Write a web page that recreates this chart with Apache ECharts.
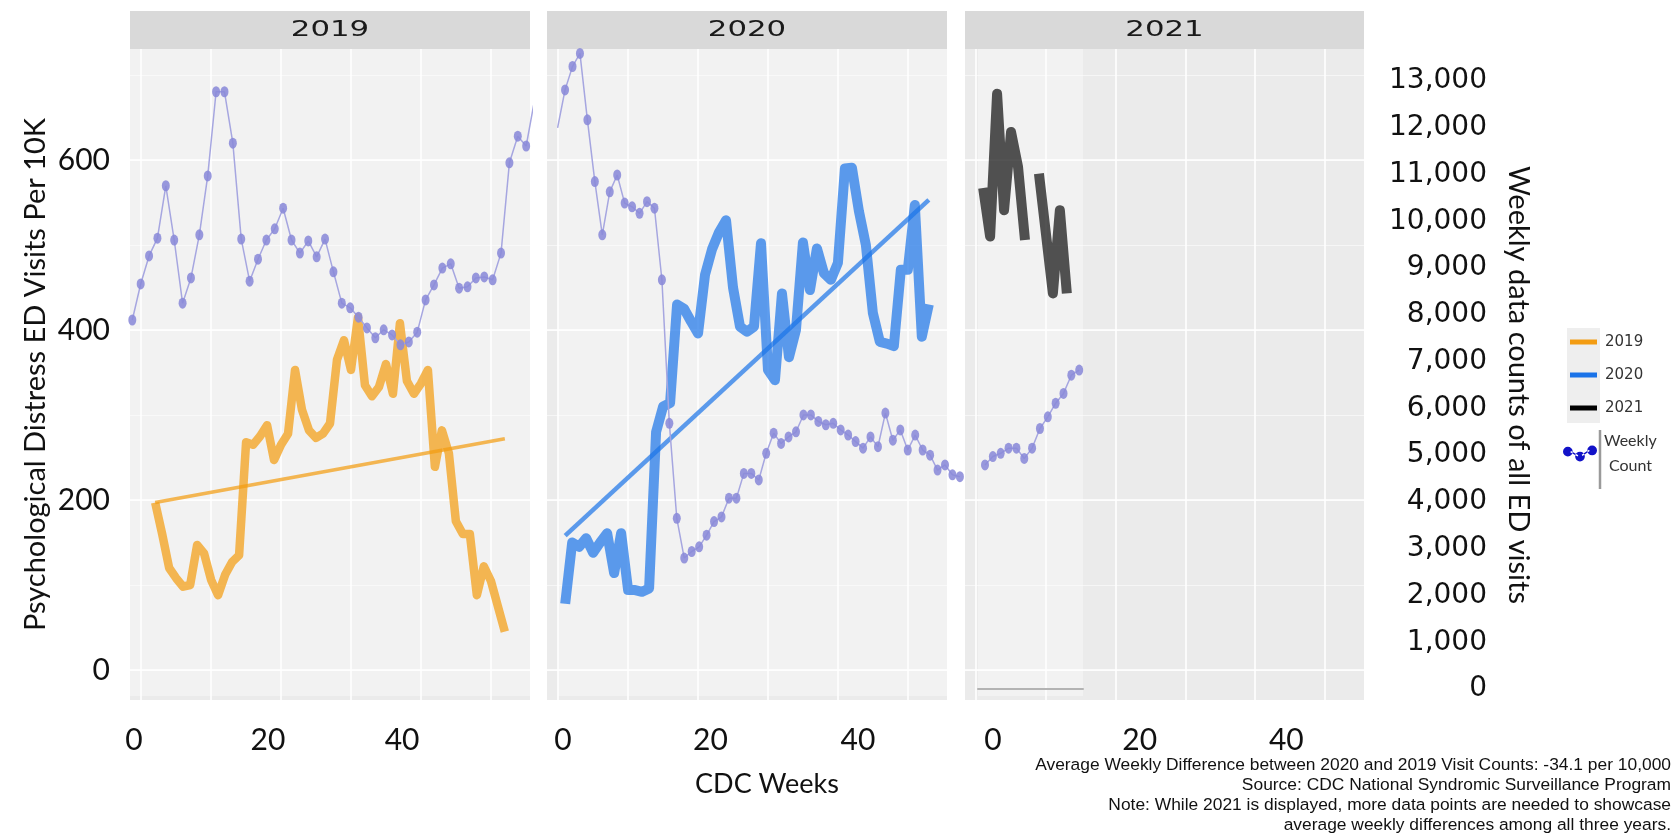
<!DOCTYPE html>
<html>
<head>
<meta charset="utf-8">
<script src="https://cdn.jsdelivr.net/npm/echarts@6/dist/echarts.min.js"></script>
<style>
html,body{margin:0;padding:0;background:#ffffff;}
#chart{width:1680px;height:833px;}
</style>
</head>
<body>
<div id="chart"></div>
<script>
// ---------------- DATA ----------------
const years = ['2019', '2020', '2021'];

const weeks2019 = [2,3,4,5,6,7,8,9,10,11,12,13,14,15,16,17,18,19,20,21,22,23,24,25,26,27,28,29,30,31,32,33,34,35,36,37,38,39,40,41,42,43,44,45,46,47,48,49,50,51,52];
const distress2019 = [197,160,120,108,98,100,147,137,106,88,112,127,135,268,265,275,288,247,265,278,353,306,282,273,278,290,365,388,353,415,335,322,333,360,325,408,340,325,337,353,239,282,255,175,160,160,88,122,105,75,45];

const weeks2020 = [1,2,3,4,5,6,7,8,9,10,11,12,13,14,15,16,17,18,19,20,21,22,23,24,25,26,27,28,29,30,31,32,33,34,35,36,37,38,39,40,41,42,43,44,45,46,47,48,49,50,51,52,53];
const distress2020 = [78,150,145,155,138,150,161,114,161,94,94,92,96,280,310,314,430,425,410,396,465,495,515,529,450,404,398,404,502,353,341,443,368,400,503,447,496,467,459,479,590,591,540,500,420,386,384,381,471,471,547,392,430];

const weeks2021 = [1,2,3,4,5,6,7,8,9,11,12,13];
const distress2021 = [567,510,678,541,633,592,506,null,584,443,541,443];

const trendWeeks2019 = [2, 52];
const trendValues2019 = [197, 272];
const trendWeeks2020 = [1, 53];
const trendValues2020 = [158, 553];

// Weekly data counts of all ED visits (overlay, right axis)
const countIndex2019 = [1,2,3,4,5,6,7,8,9,10,11,12,13,14,15,16,17,18,19,20,21,22,23,24,25,26,27,28,29,30,31,32,33,34,35,36,37,38,39,40,41,42,43,44,45,46,47,48,49];
const weeklyCount2019 = [7890,8660,9260,9640,10760,9600,8250,8790,9710,10970,12770,12770,11670,9620,8720,9190,9600,9840,10280,9600,9320,9580,9240,9620,8920,8250,8150,7950,7720,7510,7680,7570,7360,7420,7630,8320,8640,9000,9090,8570,8600,8790,8810,8750,9320,11250,11820,11610,12590];
const countIndex2020 = [1,2,3,4,5,6,7,8,9,10,11,12,13,14,15,16,17,18,19,20,21,22,23,24,25,26,27,28,29,30,31,32,33,34,35,36,37,38,39,40,41,42,43,44,45,46,47,48,49,50,51,52,53,54,55];
const weeklyCount2020 = [12000,12810,13310,13590,12170,10850,9710,10630,10990,10390,10310,10170,10420,10280,8750,5680,3650,2800,2940,3040,3290,3580,3680,4080,4080,4610,4610,4470,5040,5470,5250,5390,5500,5860,5860,5720,5650,5680,5540,5430,5290,5150,5390,5180,5900,5320,5540,5110,5430,5110,5000,4680,4790,4580,4540];
const countIndex2021 = [1,2,3,4,5,6,7,8,9,10,11,12,13];
const weeklyCount2021 = [4790,4970,5040,5150,5150,4930,5150,5570,5820,6110,6320,6710,6820];

const leftTickLabels = [0, 200, 400, 600];
const weekTickLabels = [0, 20, 40];

const captionLines = [
  'Average Weekly Difference between 2020 and 2019 Visit Counts: -34.1 per 10,000',
  'Source: CDC National Syndromic Surveillance Program',
  'Note: While 2021 is displayed, more data points are needed to showcase',
  'average weekly differences among all three years.'
];

// ---------------- LAYOUT ----------------
const PANEL_LEFT = [130, 547, 965];
const PANEL_WIDTH = [400, 400, 399];
const PLOT_TOP = 49, PLOT_HEIGHT = 651;
const STRIP_TOP = 11, STRIP_HEIGHT = 38;
const WEEK_MIN = -1.6, WEEK_MAX = 55.6;
const LEFT_MIN = -35.3, LEFT_MAX = 730.6;
// week-label axes (labels in the source image sit on their own scale)
const LABEL_RANGE = [[-0.6, 59.1], [-2.17, 52.07], [-3.82, 50.6]];

const RIGHT_TOP = 81, RIGHT_BOTTOM = 689, RIGHT_MAX = 13000;
const OVL_TOP = 49, OVL_BOTTOM = 696;
const pxPerCount = (RIGHT_BOTTOM - RIGHT_TOP) / RIGHT_MAX;
const OVL_MIN = -(OVL_BOTTOM - RIGHT_BOTTOM) / pxPerCount;
const OVL_MAX = (RIGHT_BOTTOM - OVL_TOP) / pxPerCount;
// [gridLeft, gridRight, firstPointX, spacing]
const OVL_GEOM = [[130, 531, 132.3, 8.38], [558, 962, 557.6, 7.45], [978, 1083, 985, 7.85]];

const COLORS = {o: '#F39C12', b: '#1A73E8', k: '#000000'};
const zip = (xs, ys) => xs.map((x, i) => [x, ys[i] == null ? '-' : ys[i]]);

// ---------------- OPTION ----------------
const grid = [], xAxis = [], yAxis = [];
for (let i = 0; i < 3; i++) {
  grid.push({left: PANEL_LEFT[i], top: PLOT_TOP, width: PANEL_WIDTH[i], height: PLOT_HEIGHT,
    show: true, backgroundColor: '#EBEBEB', borderWidth: 0, z: 0});
}
for (let i = 0; i < 3; i++) {
  const g = OVL_GEOM[i];
  grid.push({left: g[0], top: OVL_TOP, width: g[1] - g[0], height: OVL_BOTTOM - OVL_TOP,
    show: true, backgroundColor: 'rgba(255,255,255,0.38)', borderWidth: 0, z: 2});
}
grid.push({left: 1200, top: RIGHT_TOP, width: 290, height: RIGHT_BOTTOM - RIGHT_TOP, show: false});

// facet x axes (grid lines)
for (let i = 0; i < 3; i++) {
  xAxis.push({type: 'value', gridIndex: i, position: 'bottom', min: WEEK_MIN, max: WEEK_MAX, z: 1,
    axisLine: {show: false}, axisTick: {show: false}, axisLabel: {show: false},
    splitLine: {show: true, showMinLine: false, showMaxLine: false, lineStyle: {color: '#ffffff', width: 1.6}}});
}
// facet x label axes
for (let i = 0; i < 3; i++) {
  xAxis.push({type: 'value', gridIndex: i, position: 'bottom', min: LABEL_RANGE[i][0], max: LABEL_RANGE[i][1], z: 1,
    axisLine: {show: false}, axisTick: {show: false}, splitLine: {show: false},
    axisLabel: {show: true, margin: 25, fontFamily: 'Lato', fontSize: 30, color: '#111',
      showMinLabel: false, showMaxLabel: false,
      formatter: v => weekTickLabels.includes(v) ? String(v) : ''},
    name: i === 1 ? 'CDC Weeks' : '', nameLocation: 'middle', nameGap: 71,
    nameTextStyle: {fontFamily: 'Lato', fontSize: 27, color: '#111', padding: [0, 0, 0, 40]}});
}
// overlay x axes
for (let i = 0; i < 3; i++) {
  const g = OVL_GEOM[i];
  xAxis.push({type: 'value', gridIndex: 3 + i, position: 'bottom',
    min: 1 - (g[2] - g[0]) / g[3], max: 1 + (g[1] - g[2]) / g[3],
    show: i === 2, z: 2,
    axisLine: {show: i === 2, lineStyle: {color: '#b3b3b3', width: 2}},
    axisTick: {show: false}, axisLabel: {show: false}, splitLine: {show: false}});
}
xAxis.push({type: 'value', gridIndex: 6, show: false});

// facet y axes (major)
for (let i = 0; i < 3; i++) {
  yAxis.push({type: 'value', gridIndex: i, position: 'left', min: LEFT_MIN, max: LEFT_MAX, z: 1,
    axisLine: {show: false}, axisTick: {show: false},
    splitLine: {show: true, showMinLine: false, showMaxLine: false, lineStyle: {color: '#ffffff', width: 1.6}},
    axisLabel: {show: i === 0, margin: 20, fontFamily: 'Lato', fontSize: 30, color: '#111',
      showMinLabel: false, showMaxLabel: false,
      formatter: v => leftTickLabels.includes(v) ? String(v) : ''},
    name: i === 0 ? 'Psychological Distress ED Visits Per 10K' : '', nameLocation: 'middle', nameGap: 80,
    nameTextStyle: {fontFamily: 'Lato', fontSize: 29, color: '#111'}});
}
// facet y axes (minor grid lines)
for (let i = 0; i < 3; i++) {
  yAxis.push({type: 'value', gridIndex: i, position: 'left', min: LEFT_MIN, max: LEFT_MAX, splitNumber: 8, z: 1,
    axisLine: {show: false}, axisTick: {show: false}, axisLabel: {show: false},
    splitLine: {show: true, showMinLine: false, showMaxLine: false, lineStyle: {color: 'rgba(255,255,255,0.55)', width: 1}}});
}
// overlay y axes
for (let i = 0; i < 3; i++) {
  yAxis.push({type: 'value', gridIndex: 3 + i, min: OVL_MIN, max: OVL_MAX, show: false, splitLine: {show: false}});
}
// right axis
yAxis.push({type: 'value', gridIndex: 6, position: 'right', min: 0, max: RIGHT_MAX, interval: 1000,
  axisLine: {show: false}, axisTick: {show: false}, splitLine: {show: false},
  axisLabel: {inside: true, margin: 3, fontFamily: 'DejaVu Sans', fontSize: 28, color: '#111',
    formatter: v => v.toLocaleString('en-US')},
  name: 'Weekly data counts of all ED visits', nameLocation: 'middle', nameRotate: -90, nameGap: 14,
  nameTextStyle: {fontFamily: 'Lato', fontSize: 29, color: '#111'}});

function thick(name, xi, data, color, width, op) {
  return {name: name, type: 'line', xAxisIndex: xi, yAxisIndex: xi, data: data,
    symbol: 'none', showSymbol: false, silent: true, z: 3, connectNulls: false,
    itemStyle: {color: color},
    lineStyle: {color: color, width: width, opacity: op, join: 'round', cap: 'butt'}};
}
function overlay(i, idx, vals) {
  return {name: 'Weekly Count', type: 'line', xAxisIndex: 6 + i, yAxisIndex: 6 + i,
    data: zip(idx, vals), symbol: 'circle', symbolSize: [8, 11], showSymbol: true, silent: true, z: 4,
    itemStyle: {color: '#8a8ad8', opacity: 0.88},
    lineStyle: {color: '#a6a6e0', width: 1.5}};
}

const series = [
  thick('2019', 0, zip(weeks2019, distress2019), COLORS.o, 8.5, 0.72),
  thick('2019 trend', 0, zip(trendWeeks2019, trendValues2019), COLORS.o, 3.5, 0.72),
  thick('2020', 1, zip(weeks2020, distress2020), COLORS.b, 10, 0.7),
  thick('2020 trend', 1, zip(trendWeeks2020, trendValues2020), COLORS.b, 4.5, 0.7),
  thick('2021', 2, zip(weeks2021, distress2021), COLORS.k, 10, 0.67),
  overlay(0, countIndex2019, weeklyCount2019),
  overlay(1, countIndex2020, weeklyCount2020),
  overlay(2, countIndex2021, weeklyCount2021)
];

const graphic = [];
for (let i = 0; i < 3; i++) {
  graphic.push({type: 'rect', silent: true, z: 0,
    shape: {x: PANEL_LEFT[i], y: STRIP_TOP, width: PANEL_WIDTH[i], height: STRIP_HEIGHT},
    style: {fill: '#D9D9D9'}});
  graphic.push({type: 'text', silent: true, z: 1,
    x: PANEL_LEFT[i] + PANEL_WIDTH[i] / 2, y: STRIP_TOP + STRIP_HEIGHT / 2, scaleX: 1.4,
    style: {text: years[i], fill: '#1a1a1a', fontFamily: 'DejaVu Sans', fontSize: 22,
      align: 'center', verticalAlign: 'middle'}});
}
graphic.push({type: 'rect', silent: true, z: 0, shape: {x: 1567, y: 328, width: 33, height: 95}, style: {fill: '#EEEEEE'}});
graphic.push({type: 'line', silent: true, z: 0, shape: {x1: 1600, y1: 430, x2: 1600, y2: 489}, style: {stroke: '#9a9a9a', lineWidth: 2.5}});
graphic.push({type: 'text', silent: true, z: 1, x: 1671, y: 755,
  style: {text: captionLines.join('\n'), fill: '#111', fontFamily: 'Liberation Sans', fontSize: 17.4,
    lineHeight: 20.2, align: 'right', verticalAlign: 'top'}});

const option = {
  animation: false,
  backgroundColor: '#ffffff',
  grid: grid, xAxis: xAxis, yAxis: yAxis, series: series, graphic: graphic,
  legend: [
    {orient: 'vertical', left: 1570, top: 332, padding: 0, itemWidth: 27, itemHeight: 5, itemGap: 13,
      icon: 'rect', selectedMode: false,
      data: [{name: '2019', itemStyle: {color: COLORS.o}}, {name: '2020', itemStyle: {color: COLORS.b}}, {name: '2021', itemStyle: {color: COLORS.k}}],
      textStyle: {fontFamily: 'DejaVu Sans', fontSize: 15, color: '#333', lineHeight: 20, padding: [0, 0, 0, 3]}},
    {orient: 'vertical', left: 1563, top: 433, padding: 0, itemWidth: 34, itemHeight: 16, selectedMode: false,
      data: [{name: 'Weekly Count',
        icon: 'path://M0,6a4,4 0 1,1 8,0a4,4 0 1,1 -8,0z M10,10a4,4 0 1,1 8,0a4,4 0 1,1 -8,0z M20,5a4,4 0 1,1 8,0a4,4 0 1,1 -8,0z M6,6.5L12,10L12.6,9L6.6,5.5z M16,9.5L22,5.5L21.4,4.5L15.4,8.5z',
        itemStyle: {color: '#1212c8', opacity: 1}}],
      formatter: () => '{a|Weekly}\n{b|Count}',
      textStyle: {fontFamily: 'Lato', fontSize: 16, color: '#333',
        rich: {a: {fontFamily: 'Lato', fontSize: 16, color: '#333', lineHeight: 25, padding: [0, 0, 0, 2]},
               b: {fontFamily: 'Lato', fontSize: 16, color: '#333', lineHeight: 25, padding: [0, 0, 0, 7]}}}}
  ]
};

const chart = echarts.init(document.getElementById('chart'), null, {renderer: 'canvas'});
chart.setOption(option);
</script>
</body>
</html>
